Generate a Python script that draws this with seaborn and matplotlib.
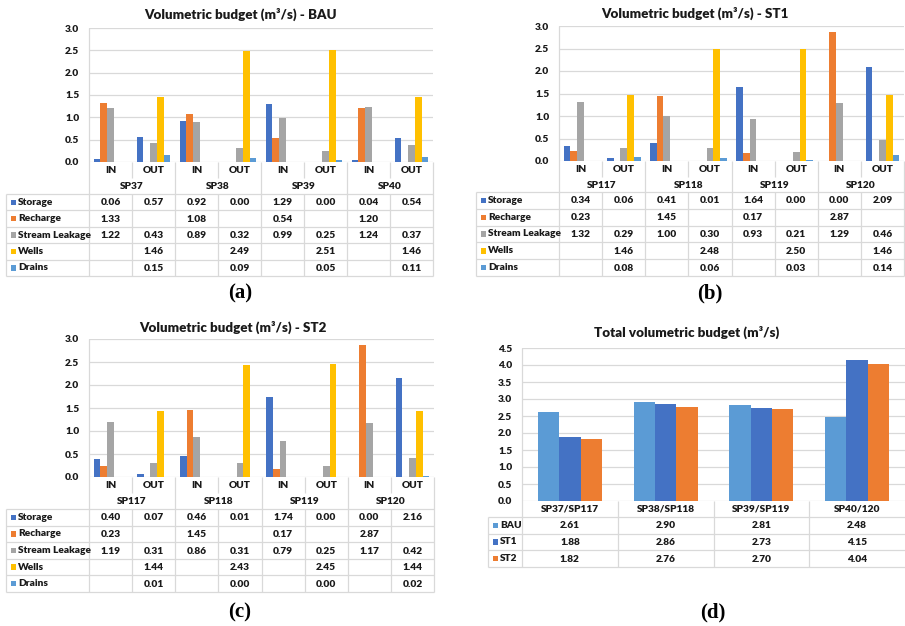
import numpy as np
import pandas as pd
import matplotlib
matplotlib.use("Agg")
import matplotlib.pyplot as plt
from matplotlib.patches import Rectangle
from matplotlib.ticker import FormatStrFormatter
import seaborn as sns

# ---------------- data ----------------
components = ["Storage", "Recharge", "Stream Leakage", "Wells", "Drains"]
comp_colors = ["#4472C4", "#ED7D31", "#A5A5A5", "#FFC000", "#5B9BD5"]
flows = ["IN", "OUT"]

sp_bau = ["SP37", "SP38", "SP39", "SP40"]
sp_st = ["SP117", "SP118", "SP119", "SP120"]

# column order: SP1 IN, SP1 OUT, SP2 IN, SP2 OUT, ...
bau_storage = [0.06, 0.57, 0.92, 0.00, 1.29, 0.00, 0.04, 0.54]
bau_recharge = [1.33, None, 1.08, None, 0.54, None, 1.20, None]
bau_leakage = [1.22, 0.43, 0.89, 0.32, 0.99, 0.25, 1.24, 0.37]
bau_wells = [None, 1.46, None, 2.49, None, 2.51, None, 1.46]
bau_drains = [None, 0.15, None, 0.09, None, 0.05, None, 0.11]

st1_storage = [0.34, 0.06, 0.41, 0.01, 1.64, 0.00, 0.00, 2.09]
st1_recharge = [0.23, None, 1.45, None, 0.17, None, 2.87, None]
st1_leakage = [1.32, 0.29, 1.00, 0.30, 0.93, 0.21, 1.29, 0.46]
st1_wells = [None, 1.46, None, 2.48, None, 2.50, None, 1.46]
st1_drains = [None, 0.08, None, 0.06, None, 0.03, None, 0.14]

st2_storage = [0.40, 0.07, 0.46, 0.01, 1.74, 0.00, 0.00, 2.16]
st2_recharge = [0.23, None, 1.45, None, 0.17, None, 2.87, None]
st2_leakage = [1.19, 0.31, 0.86, 0.31, 0.79, 0.25, 1.17, 0.42]
st2_wells = [None, 1.44, None, 2.43, None, 2.45, None, 1.44]
st2_drains = [None, 0.01, None, 0.00, None, 0.00, None, 0.02]

total_sites = ["SP37/SP117", "SP38/SP118", "SP39/SP119", "SP40/120"]
scenarios = ["BAU", "ST1", "ST2"]
scen_colors = ["#5B9BD5", "#4472C4", "#ED7D31"]
total_bau = [2.61, 2.90, 2.81, 2.48]
total_st1 = [1.88, 2.86, 2.73, 4.15]
total_st2 = [1.82, 2.76, 2.70, 4.04]

# ---------------- style ----------------
sns.set_theme(style="white")
FONT = ["Lato", "DejaVu Sans"]
plt.rcParams["font.family"] = FONT
TXT = "#1a1a1a"
GRID = "#D9D9D9"
TS = 7.3  # table / tick font size
TW = "heavy"

W, H = 905, 626
fig = plt.figure(figsize=(W / 100, H / 100), dpi=100)
fig.patch.set_facecolor("white")

ov = fig.add_axes([0, 0, 1, 1], zorder=-1)
ov.set_xlim(0, W)
ov.set_ylim(H, 0)
ov.axis("off")


def line(x0, y0, x1, y1):
    ov.plot([x0, x1], [y0, y1], color=GRID, lw=0.9, solid_capstyle="butt")


def make_axes(l, r, t, b):
    ax = fig.add_axes([l / W, 1 - b / H, (r - l) / W, (b - t) / H])
    return ax


def style_axes(ax, ymax, n):
    ax.set_xlim(-0.5, n - 0.5)
    ax.set_ylim(0, ymax)
    ax.set_yticks(np.arange(0, ymax + 0.001, 0.5))
    ax.yaxis.set_major_formatter(FormatStrFormatter("%.1f"))
    ax.set_xticks([])
    ax.set_xlabel("")
    ax.set_ylabel("")
    ax.grid(axis="y", color=GRID, lw=0.9)
    ax.set_axisbelow(True)
    for s in ax.spines.values():
        s.set_visible(False)
    ax.tick_params(axis="y", length=3, color=GRID, width=0.9, pad=4,
                   labelsize=TS, labelcolor=TXT)
    for lab in ax.get_yticklabels():
        lab.set_fontweight(TW)
    ax.patch.set_alpha(0)


def legend_cell(x, y, color, text):
    ov.add_patch(Rectangle((x + 5, y - 2.7), 5.4, 5.4, color=color, lw=0))
    ov.text(x + 12, y, text, ha="left", va="center", fontsize=TS,
            fontweight=TW, color=TXT)


def budget_panel(box, title, sps, series, title_xy, label, label_xy):
    l, r, t, b = box["l"], box["r"], box["t"], box["b"]
    cat_b, sp_b, tab_b, lab_l = box["cat_b"], box["sp_b"], box["tab_b"], box["lab_l"]
    cols = [f"{sp} {io}" for sp in sps for io in flows]
    rows = []
    for comp, vals in zip(components, series):
        for c, v in zip(cols, vals):
            if v is not None:
                rows.append({"col": c, "comp": comp, "value": v})
    df = pd.DataFrame(rows)
    ax = make_axes(l, r, t, b)
    sns.barplot(data=df, x="col", y="value", hue="comp", order=cols,
                hue_order=components, palette=comp_colors, saturation=1,
                width=0.78, errorbar=None, legend=False, ax=ax, linewidth=0)
    style_axes(ax, 3.0, len(cols))

    colw = (r - l) / len(cols)
    # frame lines
    line(l, t, l, tab_b)
    line(r, b, r, tab_b)
    for k in range(1, len(cols)):
        x = l + k * colw
        if k % 2 == 0:
            line(x, b, x, tab_b)
        else:
            line(x, b, x, cat_b)
            line(x, sp_b, x, tab_b)
    line(lab_l, sp_b, lab_l, tab_b)
    rh = (tab_b - sp_b) / len(components)
    for i in range(len(components) + 1):
        y = sp_b + i * rh
        line(lab_l, y, r, y)
    # header texts
    for k, c in enumerate(cols):
        ov.text(l + (k + 0.5) * colw, (b + cat_b) / 2 + 0.5, flows[k % 2],
                ha="center", va="center", fontsize=TS, fontweight=TW, color=TXT)
    for g, sp in enumerate(sps):
        ov.text(l + (2 * g + 1) * colw, (cat_b + sp_b) / 2 + 0.5, sp,
                ha="center", va="center", fontsize=TS, fontweight=TW, color=TXT)
    # data rows
    for i, (comp, colr, vals) in enumerate(zip(components, comp_colors, series)):
        yc = sp_b + (i + 0.5) * rh
        legend_cell(lab_l, yc, colr, comp)
        for k, v in enumerate(vals):
            if v is not None:
                ov.text(l + (k + 0.5) * colw, yc + 0.5, f"{v:.2f}", ha="center",
                        va="center", fontsize=TS, fontweight=TW, color=TXT)
    ov.text(title_xy[0], title_xy[1], title, ha="center", va="center",
            fontsize=9.6, fontweight=TW, color=TXT)
    ov.text(label_xy[0], label_xy[1], label, ha="center", va="center",
            fontsize=15, fontweight="bold", color="black",
            family=["Liberation Serif", "DejaVu Serif"])


budget_panel(dict(l=89, r=433, t=28, b=162, cat_b=178, sp_b=194, tab_b=276, lab_l=6),
             "Volumetric budget (m³/s) - BAU", sp_bau,
             [bau_storage, bau_recharge, bau_leakage, bau_wells, bau_drains],
             (240, 14), "(a)", (240, 293))
budget_panel(dict(l=559, r=904, t=26, b=161, cat_b=177, sp_b=192, tab_b=276, lab_l=476),
             "Volumetric budget (m³/s) - ST1", sp_st,
             [st1_storage, st1_recharge, st1_leakage, st1_wells, st1_drains],
             (695, 13), "(b)", (710, 293))
budget_panel(dict(l=89, r=434, t=339, b=477, cat_b=493, sp_b=509, tab_b=592, lab_l=6),
             "Volumetric budget (m³/s) - ST2", sp_st,
             [st2_storage, st2_recharge, st2_leakage, st2_wells, st2_drains],
             (233, 327), "(c)", (240, 612))

# ---------------- panel (d) ----------------
l, r, t, b = 522, 905, 348, 501
cat_b, tab_b, lab_l = 517, 567, 488
totals = [total_bau, total_st1, total_st2]
rows = []
for sc, vals in zip(scenarios, totals):
    for s, v in zip(total_sites, vals):
        rows.append({"site": s, "scenario": sc, "value": v})
dfd = pd.DataFrame(rows)
axd = make_axes(l, r, t, b)
sns.barplot(data=dfd, x="site", y="value", hue="scenario", order=total_sites,
            hue_order=scenarios, palette=scen_colors, saturation=1, width=0.67,
            errorbar=None, legend=False, ax=axd, linewidth=0)
style_axes(axd, 4.5, len(total_sites))
colw = (r - l) / len(total_sites)
line(l, t, l, tab_b)
for k in range(1, len(total_sites)):
    x = l + k * colw
    line(x, b, x, tab_b)
line(lab_l, cat_b, lab_l, tab_b)
rh = (tab_b - cat_b) / len(scenarios)
for i in range(len(scenarios) + 1):
    y = cat_b + i * rh
    line(lab_l, y, r, y)
for k, s in enumerate(total_sites):
    ov.text(l + (k + 0.5) * colw, (b + cat_b) / 2 + 0.5, s, ha="center", va="center",
            fontsize=TS, fontweight=TW, color=TXT)
for i, (sc, colr, vals) in enumerate(zip(scenarios, scen_colors, totals)):
    yc = cat_b + (i + 0.5) * rh
    legend_cell(lab_l, yc, colr, sc)
    for k, v in enumerate(vals):
        ov.text(l + (k + 0.5) * colw, yc + 0.5, f"{v:.2f}", ha="center", va="center",
                fontsize=TS, fontweight=TW, color=TXT)
ov.text(687, 332, "Total volumetric budget (m³/s)", ha="center", va="center",
        fontsize=9.6, fontweight=TW, color=TXT)
ov.text(713, 612, "(d)", ha="center", va="center", fontsize=15, fontweight="bold",
        color="black", family=["Liberation Serif", "DejaVu Serif"])

fig.savefig("out.png", dpi=100, facecolor="white")
